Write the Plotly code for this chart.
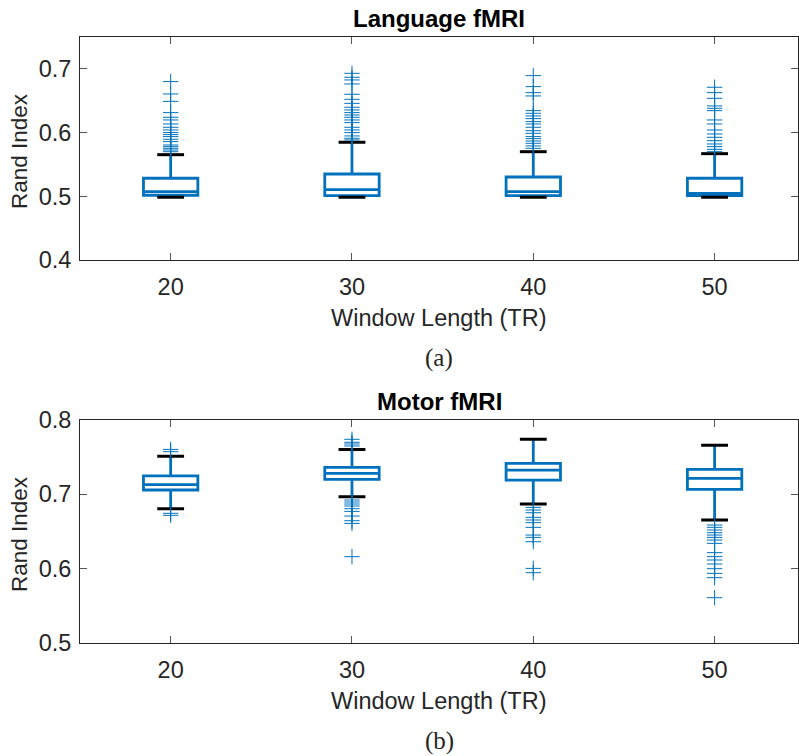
import plotly.graph_objects as go

# Window lengths (TR) used as the groups on both panels
window_lengths = ["20", "30", "40", "50"]
group_pos = [1, 2, 3, 4]

# Language fMRI: box statistics of the Rand index per window length
lang_q1 = [0.5016, 0.5010, 0.5010, 0.5010]
lang_median = [0.5073, 0.5104, 0.5073, 0.5047]
lang_q3 = [0.5283, 0.5350, 0.5303, 0.5283]
lang_lower = [0.4985, 0.4985, 0.4985, 0.4985]
lang_upper = [0.5653, 0.5848, 0.5700, 0.5669]
lang_outliers = [
    [0.680, 0.6606, 0.649, 0.6313, 0.624, 0.6198, 0.6135, 0.6083, 0.6041, 0.600,
     0.5968, 0.5937, 0.5895, 0.5858, 0.5805, 0.5779, 0.5753, 0.5727, 0.570],
    [0.6930, 0.6868, 0.6826, 0.6763, 0.6601, 0.6522, 0.6459, 0.6397, 0.6355, 0.6313,
     0.6276, 0.6240, 0.6198, 0.6156, 0.6083, 0.6041, 0.5999, 0.5947, 0.5910, 0.5884],
    [0.6894, 0.6721, 0.6627, 0.6575, 0.6344, 0.6303, 0.6261, 0.6219, 0.6172, 0.6135,
     0.6083, 0.6030, 0.5989, 0.5937, 0.5905, 0.5868, 0.5832, 0.5790, 0.5753],
    [0.6711, 0.6627, 0.6538, 0.6418, 0.6381, 0.6344, 0.6198, 0.6135, 0.6041, 0.5978,
     0.5926, 0.5873, 0.5821, 0.5779, 0.5737, 0.5700],
]

# Motor fMRI: box statistics of the Rand index per window length
motor_q1 = [0.7057, 0.7200, 0.7191, 0.7065]
motor_median = [0.7129, 0.7281, 0.7326, 0.7214]
motor_q3 = [0.7246, 0.7362, 0.7416, 0.7336]
motor_lower = [0.6805, 0.6966, 0.6868, 0.6653]
motor_upper = [0.7510, 0.7603, 0.7740, 0.7659]
motor_outliers = [
    [0.7604, 0.7573, 0.6743, 0.6716],
    [0.7740, 0.7700, 0.7677, 0.7650, 0.6922, 0.6895, 0.6868, 0.6841, 0.6805, 0.6769,
     0.6706, 0.6643, 0.6607, 0.6159],
    [0.6823, 0.6787, 0.6751, 0.6689, 0.6653, 0.6617, 0.6554, 0.6450, 0.6419, 0.6360,
     0.6001, 0.5943],
    [0.6585, 0.6554, 0.6518, 0.6482, 0.6450, 0.6419, 0.6383, 0.6338, 0.6213, 0.6159,
     0.6114, 0.6060, 0.5997, 0.5934, 0.5876, 0.5606],
]

BLUE = "#0072BD"
AX = "#262626"
SANS = "Liberation Sans, Arial, Helvetica, sans-serif"
SERIF = "Liberation Serif, DejaVu Serif, serif"
CAP_HALF = 0.074

fig = go.Figure()


def add_panel(xa, ya, q1, med, q3, lo, hi, outs):
    fig.add_trace(go.Box(
        x=group_pos, q1=q1, median=med, q3=q3, lowerfence=lo, upperfence=hi,
        width=0.3, whiskerwidth=0, boxpoints=False,
        line=dict(color=BLUE, width=2.8), fillcolor="rgba(0,0,0,0)",
        xaxis=xa, yaxis=ya, showlegend=False, hoverinfo="skip",
    ))
    # black whisker caps
    cx, cy = [], []
    for p, a, b in zip(group_pos, lo, hi):
        for v in (a, b):
            cx += [p - CAP_HALF, p + CAP_HALF, None]
            cy += [v, v, None]
    fig.add_trace(go.Scatter(
        x=cx, y=cy, mode="lines", line=dict(color="black", width=3),
        xaxis=xa, yaxis=ya, showlegend=False, hoverinfo="skip",
    ))
    # outliers
    ox, oy = [], []
    for p, vals in zip(group_pos, outs):
        ox += [p] * len(vals)
        oy += vals
    fig.add_trace(go.Scatter(
        x=ox, y=oy, mode="markers",
        marker=dict(symbol="cross-thin", size=11, line=dict(color=BLUE, width=1)),
        xaxis=xa, yaxis=ya, showlegend=False, hoverinfo="skip",
    ))


add_panel("x", "y", lang_q1, lang_median, lang_q3, lang_lower, lang_upper, lang_outliers)
add_panel("x2", "y2", motor_q1, motor_median, motor_q3, motor_lower, motor_upper, motor_outliers)

W, H = 799, 756
xdom = [80 / W, 798 / W]

xcommon = dict(
    domain=xdom, range=[0.5, 4.46], tickmode="array", tickvals=group_pos,
    ticktext=window_lengths, ticks="inside", ticklen=7, tickcolor="#555555",
    showline=True, linecolor=AX, linewidth=1, mirror="ticks", showgrid=False,
    zeroline=False, tickfont=dict(family=SANS, size=23.5, color=AX),
    ticklabelstandoff=6,
)
ycommon = dict(
    ticks="inside", ticklen=7, tickcolor="#555555", showline=True, linecolor=AX,
    linewidth=1, mirror="ticks", showgrid=False, zeroline=False,
    tickfont=dict(family=SANS, size=23.5, color=AX), ticklabelstandoff=3,
)

fig.update_layout(
    width=W, height=H, margin=dict(l=0, r=0, t=0, b=0, autoexpand=False),
    paper_bgcolor="white", plot_bgcolor="white",
    xaxis=dict(anchor="y", **xcommon),
    yaxis=dict(anchor="x", domain=[1 - 260 / H, 1 - 37 / H], range=[0.4, 0.75],
               tickvals=[0.4, 0.5, 0.6, 0.7], ticktext=["0.4", "0.5", "0.6", "0.7"], **ycommon),
    xaxis2=dict(anchor="y2", **xcommon),
    yaxis2=dict(anchor="x2", domain=[1 - 642.7 / H, 1 - 420 / H], range=[0.5, 0.8],
                tickvals=[0.5, 0.6, 0.7, 0.8], ticktext=["0.5", "0.6", "0.7", "0.8"], **ycommon),
)

cx_mid = (80 + 798) / 2 / W


def text(x, y, s, family, size, bold=False, angle=0):
    fig.add_annotation(
        x=x, y=y, xref="paper", yref="paper", text=f"<b>{s}</b>" if bold else s,
        showarrow=False, textangle=angle, xanchor="center", yanchor="middle",
        font=dict(family=family, size=size, color="black" if bold else AX),
    )


text(cx_mid, 1 - 18.5 / H, "Language fMRI", SANS, 24, bold=True)
text(cx_mid, 1 - 318 / H, "Window Length (TR)", SANS, 23.5)
text(19 / W, 1 - 151 / H, "Rand Index", SANS, 22.5, angle=-90)
text(cx_mid, 1 - 358 / H, "(a)", SERIF, 25)

text(cx_mid, 1 - 401.5 / H, "Motor fMRI", SANS, 24, bold=True)
text(cx_mid, 1 - 701 / H, "Window Length (TR)", SANS, 23.5)
text(19 / W, 1 - 534 / H, "Rand Index", SANS, 22.5, angle=-90)
text(cx_mid, 1 - 741 / H, "(b)", SERIF, 25)

fig.write_html("out.html")
